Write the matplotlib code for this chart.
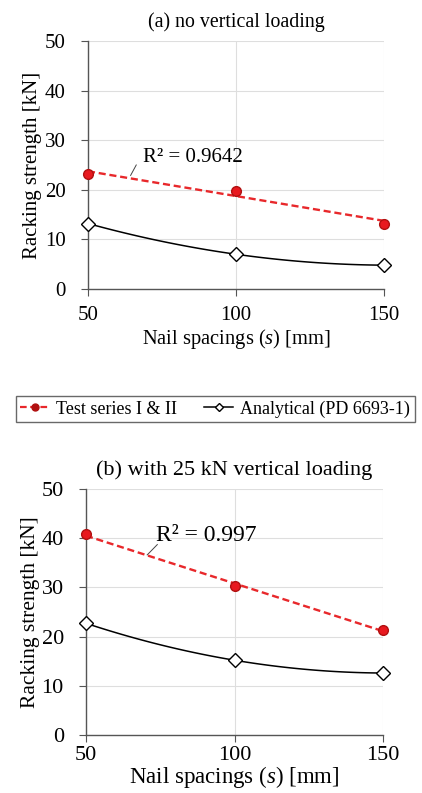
import numpy as np
import matplotlib.pyplot as plt
from matplotlib.lines import Line2D

plt.rcParams['font.family'] = ['Liberation Serif', 'DejaVu Serif']
plt.rcParams['mathtext.fontset'] = 'custom'
plt.rcParams['mathtext.rm'] = 'Liberation Serif'
plt.rcParams['mathtext.it'] = 'Liberation Serif:italic'

spacing = [50, 100, 150]

# (a) no vertical loading
test_a = [23.2, 19.8, 13.2]
anal_a = [13.2, 7.0, 4.8]
r2_a = 'R² = 0.9642'

# (b) with 25 kN vertical loading
test_b = [40.8, 30.2, 21.4]
anal_b = [22.7, 15.2, 12.6]
r2_b = 'R² = 0.997'

yticks = [0, 10, 20, 30, 40, 50]
xticks = [50, 100, 150]


def smooth(x, y):
    # quadratic through the three points, to mimic excel's smoothed line
    c = np.polyfit(x, y, 2)
    xs = np.linspace(x[0], x[-1], 100)
    return xs, np.polyval(c, xs)


def panel(ax, test, anal, title, r2, txt_xy, lead, fs):
    x = np.array(spacing, dtype=float)
    # linear trendline of the test data
    c = np.polyfit(x, test, 1)
    ax.plot(x, np.polyval(c, x), color='#e8282b', ls=(0, (3, 1.6)), lw=1.7, zorder=3)
    ax.plot(x, test, 'o', color='#e8191f', mec='#b01010', ms=7, clip_on=False, zorder=5)
    xs, ys = smooth(x, anal)
    ax.plot(xs, ys, color='black', lw=1.1, zorder=3)
    ax.plot(x, anal, 'D', mfc='white', mec='black', ms=7, mew=1.0, clip_on=False, zorder=5)
    ax.text(txt_xy[0], txt_xy[1], r2, fontsize=fs['r2'], va='center', ha='left')
    ax.plot(lead[0], lead[1], color='#444444', lw=0.7)

    ax.set_xlim(50, 150)
    ax.set_ylim(0, 50)
    ax.set_xticks(xticks)
    ax.set_yticks(yticks)
    ax.grid(True, color='#dedede', lw=0.8)
    ax.set_axisbelow(True)
    for s in ['top', 'right']:
        ax.spines[s].set_visible(False)
    for s in ['left', 'bottom']:
        ax.spines[s].set_color('#555555')
        ax.spines[s].set_linewidth(1.0)
    ax.tick_params(labelsize=fs['tick'], length=5, color='#555555')
    ax.tick_params(axis='y', pad=11)
    ax.tick_params(axis='x', pad=fs['xpad'])
    ax.set_title(title, fontsize=fs['title'], pad=10)
    ax.set_ylabel('Racking strength [kN]', fontsize=fs['label'], labelpad=fs['ypad'])
    ax.set_xlabel('Nail spacings ($\\mathit{s}$) [mm]', fontsize=fs['xlabel'],
                  labelpad=fs['xlpad'])


fig = plt.figure(figsize=(4.22, 7.93), dpi=100)
ax1 = fig.add_axes([0.2085, 0.6356, 0.7015, 0.3127])
ax2 = fig.add_axes([0.2038, 0.0731, 0.704, 0.3103])

panel(ax1, test_a, anal_a, '(a) no vertical loading', r2_a,
      (68.5, 26.6), ([66.3, 64.4], [25.0, 22.9]),
      dict(r2=15, tick=15, title=14.3, label=15, xlabel=14.8, ypad=2, xpad=7, xlpad=2))
panel(ax2, test_b, anal_b, '(b) with 25 kN vertical loading', r2_b,
      (73.5, 40.6), ([74.0, 70.6], [38.7, 36.6]),
      dict(r2=17, tick=16, title=16, label=15.5, xlabel=16.5, ypad=1, xpad=3, xlpad=-1))

h_test = (Line2D([], [], color='#e8282b', ls=(0, (3, 1.6)), lw=1.6),
          Line2D([], [], marker='o', ls='none', color='#b01010', ms=5))
h_anal = Line2D([], [], color='black', lw=1.1, marker='D', mfc='white', mec='black', ms=4.5)
fig.legend([h_test, h_anal], ['Test series I & II', 'Analytical (PD 6693-1)'],
           loc='center', bbox_to_anchor=(0.51, 0.484), ncol=2, fontsize=13,
           frameon=True, fancybox=False, edgecolor='#444444', handlelength=1.6,
           columnspacing=1.5, borderpad=0.25, handletextpad=0.4)

fig.savefig('out.png', dpi=100, facecolor='white')
